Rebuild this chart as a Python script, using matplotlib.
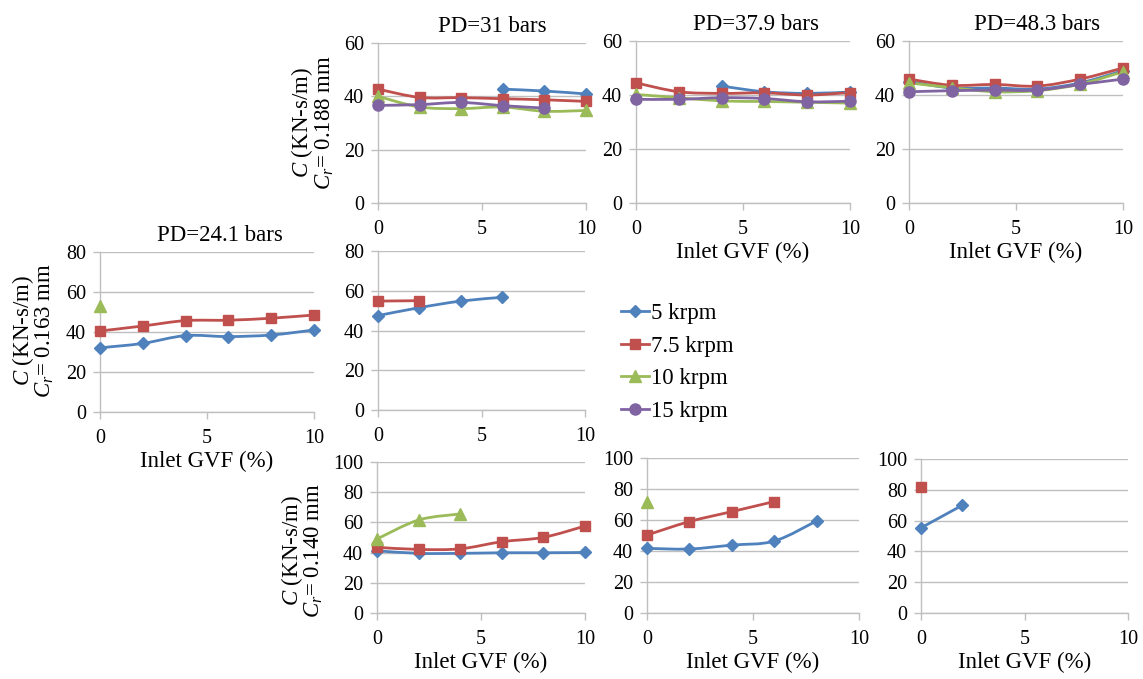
import matplotlib
matplotlib.use('Agg')
import matplotlib.pyplot as plt
from matplotlib.path import Path
from matplotlib.patches import PathPatch
from matplotlib.lines import Line2D
import numpy as np

plt.rcParams['font.family'] = 'Liberation Serif'
plt.rcParams['mathtext.fontset'] = 'custom'
plt.rcParams['mathtext.rm'] = 'Liberation Serif'
plt.rcParams['mathtext.it'] = 'Liberation Serif:italic'

W, H = 1143, 679
N = None

gvf = [0, 2, 4, 6, 8, 10]
speeds = ['5 krpm', '7.5 krpm', '10 krpm', '15 krpm']
colors = ['#4F81BD', '#C0504D', '#9BBB59', '#8064A2']
markers = ['D', 's', '^', 'o']
msizes = [6.5, 7.5, 8, 8]

# damping C (KN-s/m) vs inlet GVF, one list per speed (5, 7.5, 10, 15 krpm)
# Cr = 0.188 mm
c188_pd31 = [[N, N, N, 42.7, 42.0, 40.9],
             [42.7, 39.6, 39.5, 39.1, 38.7, 38.1],
             [40.0, 36.0, 35.4, 36.0, 34.4, 34.7],
             [36.6, 36.9, 37.7, 36.5, 35.6, N]]
c188_pd379 = [[N, N, 43.3, 41.2, 40.6, 41.1],
              [44.5, 41.2, 40.6, 40.8, 40.0, 40.9],
              [40.2, 39.0, 37.8, 37.6, 37.3, 37.0],
              [38.4, 38.4, 39.0, 38.7, 37.5, 37.7]]
c188_pd483 = [[45.0, 42.6, 42.6, 42.2, 44.5, 49.0],
              [45.9, 43.6, 43.9, 43.3, 45.9, 50.0],
              [44.5, 42.7, 41.2, 41.6, 44.0, 48.6],
              [41.2, 41.6, 41.8, 41.8, 43.9, 45.9]]
# Cr = 0.163 mm
c163_pd241 = [[32.1, 34.3, 38.2, 37.7, 38.5, 41.0],
              [40.5, 43.0, 45.7, 45.9, 46.9, 48.5],
              [53.2, N, N, N, N, N],
              [N, N, N, N, N, N]]
c163_pd31 = [[47.5, 51.5, 54.8, 56.7, N, N],
             [54.8, 55.0, N, N, N, N],
             [N, N, N, N, N, N],
             [N, N, N, N, N, N]]
# Cr = 0.140 mm
c140_pd31 = [[41.2, 39.5, 39.5, 39.9, 39.9, 40.1],
             [43.5, 42.1, 42.5, 47.2, 50.1, 57.6],
             [49.0, 61.6, 65.6, N, N, N],
             [N, N, N, N, N, N]]
c140_pd379 = [[41.7, 41.3, 43.8, 46.4, 59.4, N],
              [50.3, 59.0, 65.4, 71.9, N, N],
              [71.9, N, N, N, N, N],
              [N, N, N, N, N, N]]
c140_pd483 = [[55.3, 70.0, N, N, N, N],
              [81.6, N, N, N, N, N],
              [N, N, N, N, N, N],
              [N, N, N, N, N, N]]

# panel layout in pixels: (left, top, right, bottom)
panels = [
    dict(data=c188_pd31, box=(378, 43, 586, 203), ymax=60, title='PD=31 bars', tx=0.55, xlabel=False),
    dict(data=c188_pd379, box=(636, 41, 850, 203), ymax=60, title='PD=37.9 bars', tx=0.56, xlabel=True),
    dict(data=c188_pd483, box=(909, 41, 1123, 203), ymax=60, title='PD=48.3 bars', tx=0.60, xlabel=True),
    dict(data=c163_pd241, box=(100, 252, 314, 412), ymax=80, title='PD=24.1 bars', tx=0.56, xlabel=True),
    dict(data=c163_pd31, box=(378, 251, 585, 410), ymax=80, title=None, tx=0.5, xlabel=False),
    dict(data=c140_pd31, box=(377, 462, 585, 613), ymax=100, title=None, tx=0.5, xlabel=True),
    dict(data=c140_pd379, box=(647, 458, 859, 613), ymax=100, title=None, tx=0.5, xlabel=True),
    dict(data=c140_pd483, box=(921, 459, 1128, 613), ymax=100, title=None, tx=0.5, xlabel=True),
]

# y labels: (clearance text, x of outer line, x of inner line, y centre) in pixels
ylabels = [('0.188', 302, 325, 123), ('0.163', 23, 45, 331), ('0.140', 292, 314, 551)]

GRID = '#BFBFBF'


def smooth_path(x, y):
    # Catmull-Rom style cubic Bezier through the points
    pts = np.column_stack([x, y]).astype(float)
    n = len(pts)
    verts = [pts[0]]
    codes = [Path.MOVETO]
    for i in range(n - 1):
        p0 = pts[i - 1] if i > 0 else pts[i]
        p1, p2 = pts[i], pts[i + 1]
        p3 = pts[i + 2] if i + 2 < n else pts[i + 1]
        verts += [p1 + (p2 - p0) / 6, p2 - (p3 - p1) / 6, p2]
        codes += [Path.CURVE4] * 3
    return Path(verts, codes)


fig = plt.figure(figsize=(W / 100, H / 100), dpi=100)

for p in panels:
    l, t, r, b = p['box']
    ax = fig.add_axes([l / W, 1 - b / H, (r - l) / W, (b - t) / H])
    ax.set_xlim(0, 10)
    ax.set_ylim(0, p['ymax'])
    ax.set_xticks([0, 5, 10])
    ax.set_yticks(np.arange(0, p['ymax'] + 1, 20))
    ax.yaxis.grid(True, color=GRID, lw=1.0)
    ax.set_axisbelow(True)
    for s in ['top', 'right']:
        ax.spines[s].set_visible(False)
    for s in ['left', 'bottom']:
        ax.spines[s].set_color(GRID)
        ax.spines[s].set_linewidth(1.0)
    ax.tick_params(axis='both', colors=GRID, labelcolor='black', labelsize=14.5,
                   length=5, width=1.0, direction='out')
    ax.tick_params(axis='y', pad=5)
    ax.tick_params(axis='x', pad=7)
    for k, series in enumerate(p['data']):
        y = np.array([np.nan if v is None else v for v in series], dtype=float)
        ok = ~np.isnan(y)
        xs = np.array(gvf)[ok]
        ys = y[ok]
        if len(ys) == 0:
            continue
        if len(ys) > 1:
            ax.add_patch(PathPatch(smooth_path(xs, ys), fill=False, edgecolor=colors[k],
                                   lw=2.0, zorder=3, clip_on=False))
        ax.plot(xs, ys, linestyle='none', marker=markers[k], ms=msizes[k],
                color=colors[k], mec=colors[k], zorder=4, clip_on=False)
    if p['title']:
        ax.set_title(p['title'], fontsize=16.5, x=p['tx'], pad=8)
    if p['xlabel']:
        ax.set_xlabel('Inlet GVF (%)', fontsize=16.5, labelpad=2)

for cr, x1, x2, yc in ylabels:
    fig.text(x1 / W, 1 - yc / H, '$C$ (KN-s/m)', rotation=90, fontsize=16.5,
             ha='center', va='center')
    fig.text(x2 / W, 1 - yc / H, '$C_r$= ' + cr + ' mm', rotation=90, fontsize=16.5,
             ha='center', va='center')

handles = [Line2D([], [], color=c, marker=m, ms=s, lw=2.0) for c, m, s in zip(colors, markers, msizes)]
fig.legend(handles, speeds, loc='upper left', bbox_to_anchor=(621 / W, 1 - 303 / H),
           frameon=False, fontsize=16.5, handlelength=1.2, handletextpad=0.1,
           labelspacing=0.5, borderpad=0, borderaxespad=0)

fig.savefig('out.png', dpi=100)
